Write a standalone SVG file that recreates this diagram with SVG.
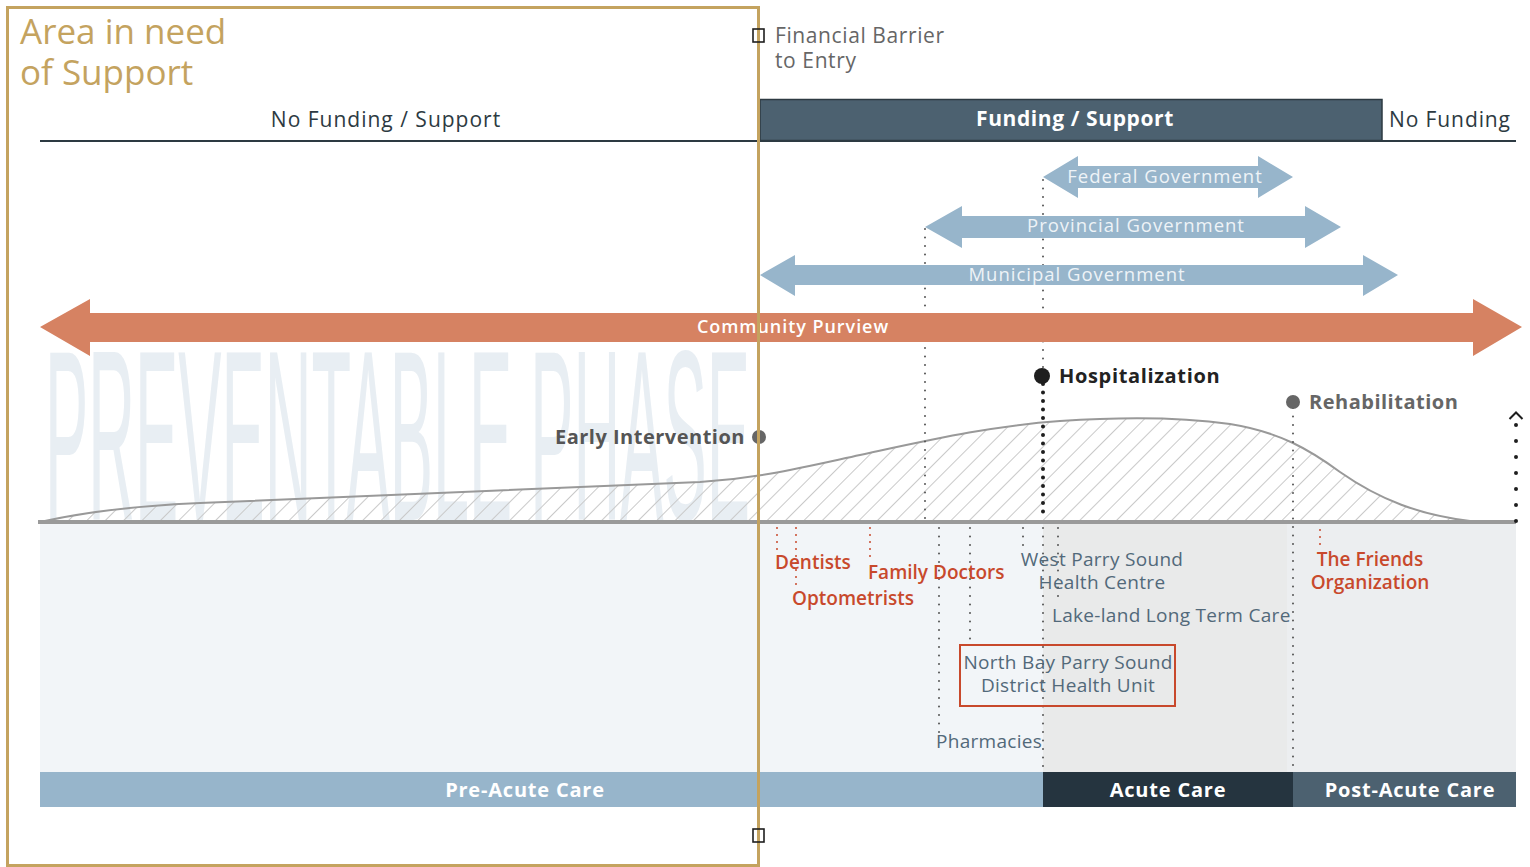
<svg xmlns="http://www.w3.org/2000/svg" width="1530" height="867" viewBox="0 0 1530 867">
<style>
.t{font-family:"Open Sans","Liberation Sans",sans-serif}
.gov{font-family:"Open Sans","Liberation Sans",sans-serif;font-size:18.5px;letter-spacing:1px;fill:#eef3f7;text-anchor:middle}
.lbl{font-family:"Open Sans","Liberation Sans",sans-serif;font-size:19px}
.red{fill:#c8492c;font-weight:600}
.slate{fill:#52697a;letter-spacing:0.3px}
.dotg{stroke:#555;stroke-width:2;stroke-dasharray:0 8.5;stroke-linecap:round;fill:none}
.dotr{stroke:#c8492c;stroke-width:2;stroke-dasharray:0 7;stroke-linecap:round;fill:none}
.bar{font-family:"Open Sans","Liberation Sans",sans-serif;font-size:20px;font-weight:700;letter-spacing:0.8px;fill:#fff;text-anchor:middle}
</style>
<defs>
<pattern id="hatch" width="13" height="13" patternUnits="userSpaceOnUse" patternTransform="rotate(45)">
<line x1="0" y1="0" x2="0" y2="13" stroke="#c9c9c9" stroke-width="2"/>
</pattern>
</defs>
<rect width="1530" height="867" fill="#fff"/>

<g id="watermark">
<text x="45" y="520" font-family="Liberation Sans,sans-serif" font-size="243" fill="#e8eef3" textLength="705" lengthAdjust="spacingAndGlyphs">PREVENTABLE PHASE</text>
</g>

<g id="backgrounds">
<rect x="40" y="524" width="1003" height="248" fill="#f2f5f8"/>
<rect x="1043" y="524" width="244" height="248" fill="#e9eaea"/>
<rect x="1287" y="524" width="229" height="248" fill="#eceef0"/>
</g>

<g id="curve">
<path d="M40,522 C80,513 130,506 200,503 C300,498 500,490 700,482 C760,478 800,468 860,455 C930,440 990,426 1060,421 C1120,417 1180,417 1230,424 C1280,432 1310,450 1340,472 C1380,500 1420,515 1470,521 L1516,522 Z" fill="url(#hatch)" stroke="none"/>
<path d="M40,522 C80,513 130,506 200,503 C300,498 500,490 700,482 C760,478 800,468 860,455 C930,440 990,426 1060,421 C1120,417 1180,417 1230,424 C1280,432 1310,450 1340,472 C1380,500 1420,515 1470,521 L1516,522" fill="none" stroke="#999" stroke-width="2"/>
<line x1="38" y1="522" x2="1516" y2="522" stroke="#9a9a9a" stroke-width="4"/>
</g>

<g id="connectors">
<line class="dotg" x1="925" y1="229" x2="925" y2="521"/>
<line class="dotg" x1="1043" y1="180" x2="1043" y2="372"/>
<line x1="1043" y1="384" x2="1043" y2="520" stroke="#1e1e1e" stroke-width="4" stroke-dasharray="0 8.5" stroke-linecap="round"/>
<line class="dotg" x1="1043" y1="528" x2="1043" y2="772"/>
<line class="dotg" x1="939" y1="528" x2="939" y2="733"/>
<line class="dotg" x1="970" y1="528" x2="970" y2="644"/>
<line class="dotg" x1="1023" y1="528" x2="1023" y2="548"/>
<line class="dotg" x1="1058" y1="528" x2="1058" y2="603"/>
<line class="dotg" x1="1293" y1="408" x2="1293" y2="772"/>
<line class="dotr" x1="777" y1="528" x2="777" y2="550"/>
<line class="dotr" x1="796" y1="528" x2="796" y2="590"/>
<line class="dotr" x1="870" y1="528" x2="870" y2="560"/>
<line class="dotr" x1="1320" y1="530" x2="1320" y2="550"/>
<line x1="1516" y1="425" x2="1516" y2="522" stroke="#1e1e1e" stroke-width="4" stroke-dasharray="0 16" stroke-linecap="round"/>
<polyline points="1509.5,419 1516,412.5 1522.5,419" fill="none" stroke="#1e1e1e" stroke-width="2"/>
</g>

<g id="funding-header">
<text class="t" x="386" y="127" font-size="21" letter-spacing="1" fill="#2d3a42" text-anchor="middle">No Funding / Support</text>
<rect x="760" y="99.5" width="622" height="41" fill="#4c6170" stroke="#2d3a42" stroke-width="1.5"/>
<text class="t" x="1075" y="126" font-size="21" font-weight="700" letter-spacing="0.6" fill="#fff" text-anchor="middle">Funding / Support</text>
<text class="t" x="1389" y="127" font-size="21" letter-spacing="0.9" fill="#2d3a42">No Funding</text>
<line x1="40" y1="141" x2="1516" y2="141" stroke="#2d3a42" stroke-width="2"/>
</g>

<g id="financial-barrier">
<text class="t" font-size="21" letter-spacing="0.6" fill="#666"><tspan x="775" y="43">Financial Barrier</tspan><tspan x="775" y="68">to Entry</tspan></text>
</g>

<g id="federal">
<polygon points="1043,177 1078,156 1078,166 1258,166 1258,156 1293,177 1258,198 1258,188 1078,188 1078,198" fill="#97b5cb"/>
<text class="gov" x="1165" y="183">Federal Government</text>
</g>
<g id="provincial">
<polygon points="925,227 962,206 962,216 1305,216 1305,206 1341,227 1305,248 1305,238 962,238 962,248" fill="#97b5cb"/>
<text class="gov" x="1136" y="232">Provincial Government</text>
</g>
<g id="municipal">
<polygon points="760,275 795,255 795,265 1363,265 1363,255 1398,275 1363,296 1363,285 795,285 795,296" fill="#97b5cb"/>
<text class="gov" x="1077" y="281">Municipal Government</text>
</g>
<g id="community">
<polygon points="40,327 90,299 90,313 1473,313 1473,299 1522,327 1473,356 1473,342 90,342 90,356" fill="#d68262"/>
<text class="t" x="793" y="333" font-size="18" font-weight="600" letter-spacing="0.95" fill="#fff" text-anchor="middle">Community Purview</text>
</g>

<g id="early-intervention">
<circle cx="759" cy="437" r="7" fill="#666"/>
<text class="t" x="745" y="444" font-size="20" font-weight="700" letter-spacing="0.5" fill="#555" text-anchor="end">Early Intervention</text>
</g>
<g id="hospitalization">
<circle cx="1042" cy="376" r="8" fill="#1e1e1e"/>
<text class="t" x="1059" y="383" font-size="20" font-weight="700" letter-spacing="0.65" fill="#222">Hospitalization</text>
</g>
<g id="rehabilitation">
<circle cx="1293" cy="402" r="7" fill="#666"/>
<text class="t" x="1309" y="409" font-size="20" font-weight="700" letter-spacing="0.5" fill="#666">Rehabilitation</text>
</g>

<g id="dentists"><text class="lbl red" x="775" y="569">Dentists</text></g>
<g id="family-doctors"><text class="lbl red" x="868" y="579">Family Doctors</text></g>
<g id="optometrists"><text class="lbl red" x="792" y="605">Optometrists</text></g>
<g id="west-parry"><text class="lbl slate" text-anchor="middle"><tspan x="1102" y="566">West Parry Sound</tspan><tspan x="1102" y="589">Health Centre</tspan></text></g>
<g id="lakeland"><text class="lbl slate" x="1052" y="622">Lake-land Long Term Care</text></g>
<g id="north-bay">
<rect x="960" y="645" width="215" height="61" fill="none" stroke="#c8492c" stroke-width="2"/>
<text class="lbl slate" text-anchor="middle"><tspan x="1068" y="669">North Bay Parry Sound</tspan><tspan x="1068" y="692">District Health Unit</tspan></text>
</g>
<g id="pharmacies"><text class="lbl slate" x="936" y="748">Pharmacies</text></g>
<g id="friends"><text class="lbl red" text-anchor="middle"><tspan x="1370" y="566">The Friends</tspan><tspan x="1370" y="589">Organization</tspan></text></g>

<g id="phases">
<rect x="40" y="772" width="1003" height="35" fill="#97b5cb"/>
<rect x="1043" y="772" width="250" height="35" fill="#25343f"/>
<rect x="1293" y="772" width="223" height="35" fill="#4c6170"/>
<text class="bar" x="525" y="797">Pre-Acute Care</text>
<text class="bar" x="1168" y="797">Acute Care</text>
<text class="bar" x="1410" y="797">Post-Acute Care</text>
</g>

<g id="area-of-support">
<rect x="7.5" y="7.5" width="751" height="858" fill="none" stroke="#c4a35f" stroke-width="3"/>
<text class="t" font-size="35" font-weight="500" fill="#c4a35f"><tspan x="20" y="44">Area in need</tspan><tspan x="20" y="85">of Support</tspan></text>
<rect x="753" y="29" width="11" height="13" fill="none" stroke="#1e1e1e" stroke-width="1.6"/>
<rect x="753" y="829" width="11" height="13" fill="none" stroke="#1e1e1e" stroke-width="1.6"/>
</g>
</svg>
